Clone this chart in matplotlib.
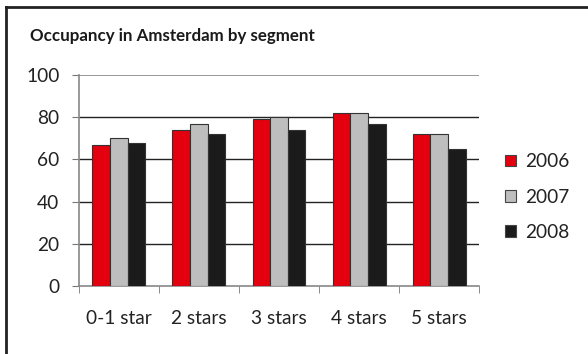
import numpy as np
import matplotlib.pyplot as plt
from matplotlib.lines import Line2D

categories = ['0-1 star', '2 stars', '3 stars', '4 stars', '5 stars']
years = ['2006', '2007', '2008']
occ_2006 = [67, 74, 79, 82, 72]
occ_2007 = [70, 77, 80, 82, 72]
occ_2008 = [68, 72, 74, 77, 65]
colors = ['#e3000f', '#bebebe', '#1b1b1b']

plt.rcParams['font.family'] = ['Lato', 'DejaVu Sans']

fig = plt.figure(figsize=(5.88, 3.54), dpi=100)
ax = fig.add_axes([0.134, 0.192, 0.681, 0.596])

x = np.arange(len(categories))
w = 0.22
for i, (vals, c, lab) in enumerate(zip([occ_2006, occ_2007, occ_2008], colors, years)):
    ax.bar(x + (i - 1) * w, vals, w, color=c, edgecolor='#333333', linewidth=0.8,
           label=lab, zorder=3)

ax.set_xlim(-0.5, len(categories) - 0.5)
ax.set_ylim(0, 100)
ax.set_yticks(range(0, 101, 20))
ax.set_yticklabels([str(v) for v in range(0, 101, 20)], fontsize=13.8, color='#222222')
ax.set_xticks(x)
ax.set_xticklabels(categories, fontsize=13.8, color='#222222')
ax.set_xticks(np.arange(-0.5, len(categories)), minor=True)
ax.tick_params(axis='x', which='major', length=0, pad=17)
ax.tick_params(axis='x', which='minor', length=5, color='#777777', direction='out')
ax.tick_params(axis='y', length=5, color='#777777', pad=9)

for v in range(20, 100, 20):
    ax.axhline(v, color='#222222', linewidth=1, zorder=1)
ax.axhline(100, color='#888888', linewidth=1.2, zorder=1)

for s in ['top', 'right']:
    ax.spines[s].set_visible(False)
for s in ['left', 'bottom']:
    ax.spines[s].set_color('#888888')
    ax.spines[s].set_linewidth(1.2)

handles = [plt.Rectangle((0, 0), 1, 1, facecolor=c, edgecolor='#444444', linewidth=0.8)
           for c in colors]
fig.legend(handles, years, loc='center left', bbox_to_anchor=(0.83, 0.443),
           frameon=False, fontsize=13.8, handlelength=0.55, handleheight=0.55,
           handletextpad=0.5, labelspacing=0.95, labelcolor='#222222')

fig.text(0.051, 0.898, 'Occupancy in Amsterdam by segment', fontsize=12.2,
         fontweight='bold', color='#1a1a1a', va='center', ha='left')

# frame lines (top and left)
fig.add_artist(Line2D([0.011, 1.0], [0.981, 0.981], color='#222222', linewidth=2,
                      transform=fig.transFigure))
fig.add_artist(Line2D([0.011, 0.011], [0.0, 0.981], color='#222222', linewidth=2,
                      transform=fig.transFigure))

fig.savefig('out.png', dpi=100)
